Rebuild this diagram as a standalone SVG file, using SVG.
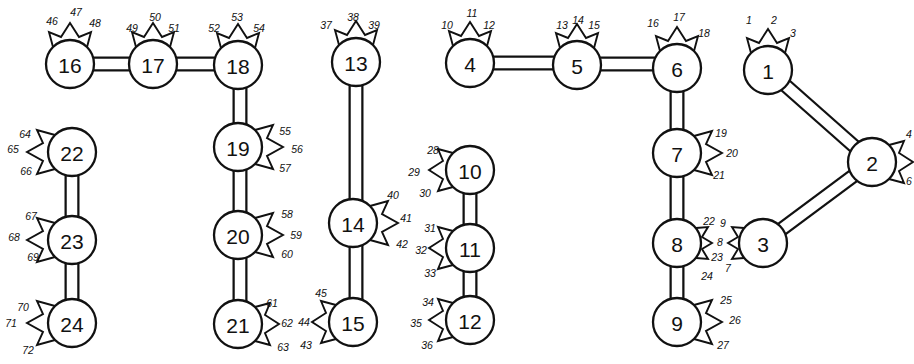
<svg xmlns="http://www.w3.org/2000/svg" xmlns:xlink="http://www.w3.org/1999/xlink" width="914" height="364" viewBox="0 0 914 364">
<style>
.bo{stroke:#111;stroke-width:15;stroke-linecap:butt;fill:none}
.bi{stroke:#fff;stroke-width:10.5;stroke-linecap:butt;fill:none}
.c{fill:#fff;stroke:#111;stroke-width:2.3}
.cr{fill:none;stroke:#111;stroke-width:1.9;stroke-linejoin:miter}
.n{font-family:"Liberation Sans",Arial,sans-serif;font-size:21px;fill:#111;text-anchor:middle;dominant-baseline:central}
.l{font-family:"Liberation Sans",Arial,sans-serif;font-style:italic;font-size:10.5px;fill:#111;text-anchor:middle;dominant-baseline:central}
</style>
<defs>
<path id="crown" d="M-17,-17 L-21,-32 L-9,-27 L0,-41 L9,-27 L21,-32 L17,-17"/>
<path id="crownL" d="M-17,-17 L-22,-35 L-9,-29 L0,-45 L9,-29 L22,-35 L17,-17"/>
<path id="crownS" d="M-15,-19 L-16,-31 L-6,-25 L0,-35 L6,-25 L16,-31 L15,-19"/>
</defs>
<rect width="914" height="364" fill="#fff"/>
<g id="connectors">
<g class="bo">
<line x1="70" y1="64" x2="153" y2="64"/><line x1="153" y1="64" x2="237" y2="64"/>
<line x1="240" y1="65" x2="240" y2="147"/><line x1="240" y1="147" x2="240" y2="235"/><line x1="240" y1="235" x2="240" y2="323"/>
<line x1="72" y1="152" x2="72" y2="240"/><line x1="72" y1="240" x2="72" y2="323"/>
<line x1="356" y1="62" x2="356" y2="223"/><line x1="356" y1="223" x2="356" y2="322"/>
<line x1="470" y1="170" x2="470" y2="248"/><line x1="470" y1="248" x2="470" y2="320"/>
<line x1="470" y1="63" x2="577" y2="63"/><line x1="577" y1="64" x2="677" y2="64"/>
<line x1="677" y1="68" x2="677" y2="153"/><line x1="677" y1="153" x2="677" y2="243"/><line x1="677" y1="243" x2="677" y2="322"/>
<line x1="768" y1="70" x2="872" y2="162"/><line x1="872" y1="162" x2="763" y2="243"/>
</g>
<g class="bi">
<line x1="70" y1="64" x2="153" y2="64"/><line x1="153" y1="64" x2="237" y2="64"/>
<line x1="240" y1="65" x2="240" y2="147"/><line x1="240" y1="147" x2="240" y2="235"/><line x1="240" y1="235" x2="240" y2="323"/>
<line x1="72" y1="152" x2="72" y2="240"/><line x1="72" y1="240" x2="72" y2="323"/>
<line x1="356" y1="62" x2="356" y2="223"/><line x1="356" y1="223" x2="356" y2="322"/>
<line x1="470" y1="170" x2="470" y2="248"/><line x1="470" y1="248" x2="470" y2="320"/>
<line x1="470" y1="63" x2="577" y2="63"/><line x1="577" y1="64" x2="677" y2="64"/>
<line x1="677" y1="68" x2="677" y2="153"/><line x1="677" y1="153" x2="677" y2="243"/><line x1="677" y1="243" x2="677" y2="322"/>
<line x1="768" y1="70" x2="872" y2="162"/><line x1="872" y1="162" x2="763" y2="243"/>
</g>
</g>

<g id="node1"><circle class="c" cx="768" cy="70" r="24"/><use href="#crown" class="cr" transform="translate(768,70)"/><text class="n" x="768" y="71">1</text>
<text class="l" x="749" y="20">1</text><text class="l" x="774" y="20">2</text><text class="l" x="793" y="33">3</text></g>
<g id="node2"><circle class="c" cx="872" cy="162" r="24"/><use href="#crown" class="cr" transform="translate(872,162) rotate(90)"/><text class="n" x="872" y="163">2</text>
<text class="l" x="909" y="134">4</text><text class="l" x="909" y="181">6</text></g>
<g id="node3"><circle class="c" cx="763" cy="243" r="24"/><use href="#crownS" class="cr" transform="translate(763,243) rotate(-90)"/><text class="n" x="763" y="244">3</text>
<text class="l" x="723" y="223">9</text><text class="l" x="720" y="242">8</text><text class="l" x="728" y="268">7</text></g>
<g id="node4"><circle class="c" cx="470" cy="63" r="24"/><use href="#crown" class="cr" transform="translate(470,63)"/><text class="n" x="470" y="64">4</text>
<text class="l" x="447" y="25">10</text><text class="l" x="472" y="13">11</text><text class="l" x="489" y="25">12</text></g>
<g id="node5"><circle class="c" cx="577" cy="65" r="24"/><use href="#crown" class="cr" transform="translate(577,65)"/><text class="n" x="577" y="66">5</text>
<text class="l" x="562" y="25">13</text><text class="l" x="578" y="20">14</text><text class="l" x="594" y="25">15</text></g>
<g id="node6"><circle class="c" cx="677" cy="68" r="24"/><use href="#crown" class="cr" transform="translate(677,68)"/><text class="n" x="677" y="69">6</text>
<text class="l" x="653" y="23">16</text><text class="l" x="679" y="17">17</text><text class="l" x="704" y="33">18</text></g>
<g id="node7"><circle class="c" cx="677" cy="153" r="24"/><use href="#crownL" class="cr" transform="translate(677,153) rotate(90)"/><text class="n" x="677" y="154">7</text>
<text class="l" x="721" y="133">19</text><text class="l" x="732" y="153">20</text><text class="l" x="719" y="175">21</text></g>
<g id="node8"><circle class="c" cx="677" cy="243" r="24"/><use href="#crownS" class="cr" transform="translate(677,243) rotate(90)"/><text class="n" x="677" y="244">8</text>
<text class="l" x="709" y="221">22</text><text class="l" x="717" y="257">23</text><text class="l" x="707" y="276">24</text></g>
<g id="node9"><circle class="c" cx="677" cy="322" r="24"/><use href="#crownL" class="cr" transform="translate(677,322) rotate(90)"/><text class="n" x="677" y="323">9</text>
<text class="l" x="726" y="300">25</text><text class="l" x="735" y="320">26</text><text class="l" x="723" y="345">27</text></g>
<g id="node10"><circle class="c" cx="470" cy="170" r="24"/><use href="#crown" class="cr" transform="translate(470,170) rotate(-90)"/><text class="n" x="470" y="171">10</text>
<text class="l" x="433" y="150">28</text><text class="l" x="414" y="172">29</text><text class="l" x="425" y="193">30</text></g>
<g id="node11"><circle class="c" cx="470" cy="248" r="24"/><use href="#crown" class="cr" transform="translate(470,248) rotate(-90)"/><text class="n" x="470" y="249">11</text>
<text class="l" x="430" y="228">31</text><text class="l" x="421" y="250">32</text><text class="l" x="430" y="273">33</text></g>
<g id="node12"><circle class="c" cx="470" cy="320" r="24"/><use href="#crown" class="cr" transform="translate(470,320) rotate(-90)"/><text class="n" x="470" y="321">12</text>
<text class="l" x="428" y="302">34</text><text class="l" x="416" y="323">35</text><text class="l" x="427" y="345">36</text></g>
<g id="node13"><circle class="c" cx="356" cy="62" r="24"/><use href="#crown" class="cr" transform="translate(356,62)"/><text class="n" x="356" y="63">13</text>
<text class="l" x="326" y="25">37</text><text class="l" x="353" y="17">38</text><text class="l" x="374" y="25">39</text></g>
<g id="node14"><circle class="c" cx="353" cy="223" r="24"/><use href="#crownL" class="cr" transform="translate(353,223) rotate(90)"/><text class="n" x="353" y="224">14</text>
<text class="l" x="393" y="195">40</text><text class="l" x="406" y="218">41</text><text class="l" x="402" y="244">42</text></g>
<g id="node15"><circle class="c" cx="353" cy="322" r="24"/><use href="#crown" class="cr" transform="translate(353,322) rotate(-90)"/><text class="n" x="353" y="323">15</text>
<text class="l" x="321" y="293">45</text><text class="l" x="304" y="322">44</text><text class="l" x="306" y="345">43</text></g>
<g id="node16"><circle class="c" cx="70" cy="64" r="24"/><use href="#crown" class="cr" transform="translate(70,64)"/><text class="n" x="70" y="65">16</text>
<text class="l" x="52" y="21">46</text><text class="l" x="76" y="12">47</text><text class="l" x="95" y="23">48</text></g>
<g id="node17"><circle class="c" cx="153" cy="64" r="24"/><use href="#crown" class="cr" transform="translate(153,64)"/><text class="n" x="153" y="65">17</text>
<text class="l" x="132" y="28">49</text><text class="l" x="155" y="17">50</text><text class="l" x="174" y="28">51</text></g>
<g id="node18"><circle class="c" cx="238" cy="65" r="24"/><use href="#crown" class="cr" transform="translate(238,65)"/><text class="n" x="238" y="66">18</text>
<text class="l" x="214" y="28">52</text><text class="l" x="237" y="17">53</text><text class="l" x="259" y="28">54</text></g>
<g id="node19"><circle class="c" cx="238" cy="147" r="24"/><use href="#crownL" class="cr" transform="translate(238,147) rotate(90)"/><text class="n" x="238" y="148">19</text>
<text class="l" x="285" y="131">55</text><text class="l" x="297" y="149">56</text><text class="l" x="285" y="168">57</text></g>
<g id="node20"><circle class="c" cx="238" cy="235" r="24"/><use href="#crownL" class="cr" transform="translate(238,235) rotate(90)"/><text class="n" x="238" y="236">20</text>
<text class="l" x="287" y="214">58</text><text class="l" x="296" y="235">59</text><text class="l" x="287" y="254">60</text></g>
<g id="node21"><circle class="c" cx="238" cy="324" r="24"/><use href="#crown" class="cr" transform="translate(238,324) rotate(90)"/><text class="n" x="238" y="325">21</text>
<text class="l" x="272" y="303">61</text><text class="l" x="287" y="323">62</text><text class="l" x="283" y="347">63</text></g>
<g id="node22"><circle class="c" cx="72" cy="152" r="24"/><use href="#crownL" class="cr" transform="translate(72,152) rotate(-90)"/><text class="n" x="72" y="153">22</text>
<text class="l" x="25" y="134">64</text><text class="l" x="13" y="149">65</text><text class="l" x="26" y="171">66</text></g>
<g id="node23"><circle class="c" cx="72" cy="240" r="24"/><use href="#crownL" class="cr" transform="translate(72,240) rotate(-90)"/><text class="n" x="72" y="241">23</text>
<text class="l" x="31" y="216">67</text><text class="l" x="14" y="237">68</text><text class="l" x="33" y="257">69</text></g>
<g id="node24"><circle class="c" cx="72" cy="323" r="24"/><use href="#crownL" class="cr" transform="translate(72,323) rotate(-90)"/><text class="n" x="72" y="324">24</text>
<text class="l" x="23" y="307">70</text><text class="l" x="11" y="323">71</text><text class="l" x="28" y="350">72</text></g>
</svg>
